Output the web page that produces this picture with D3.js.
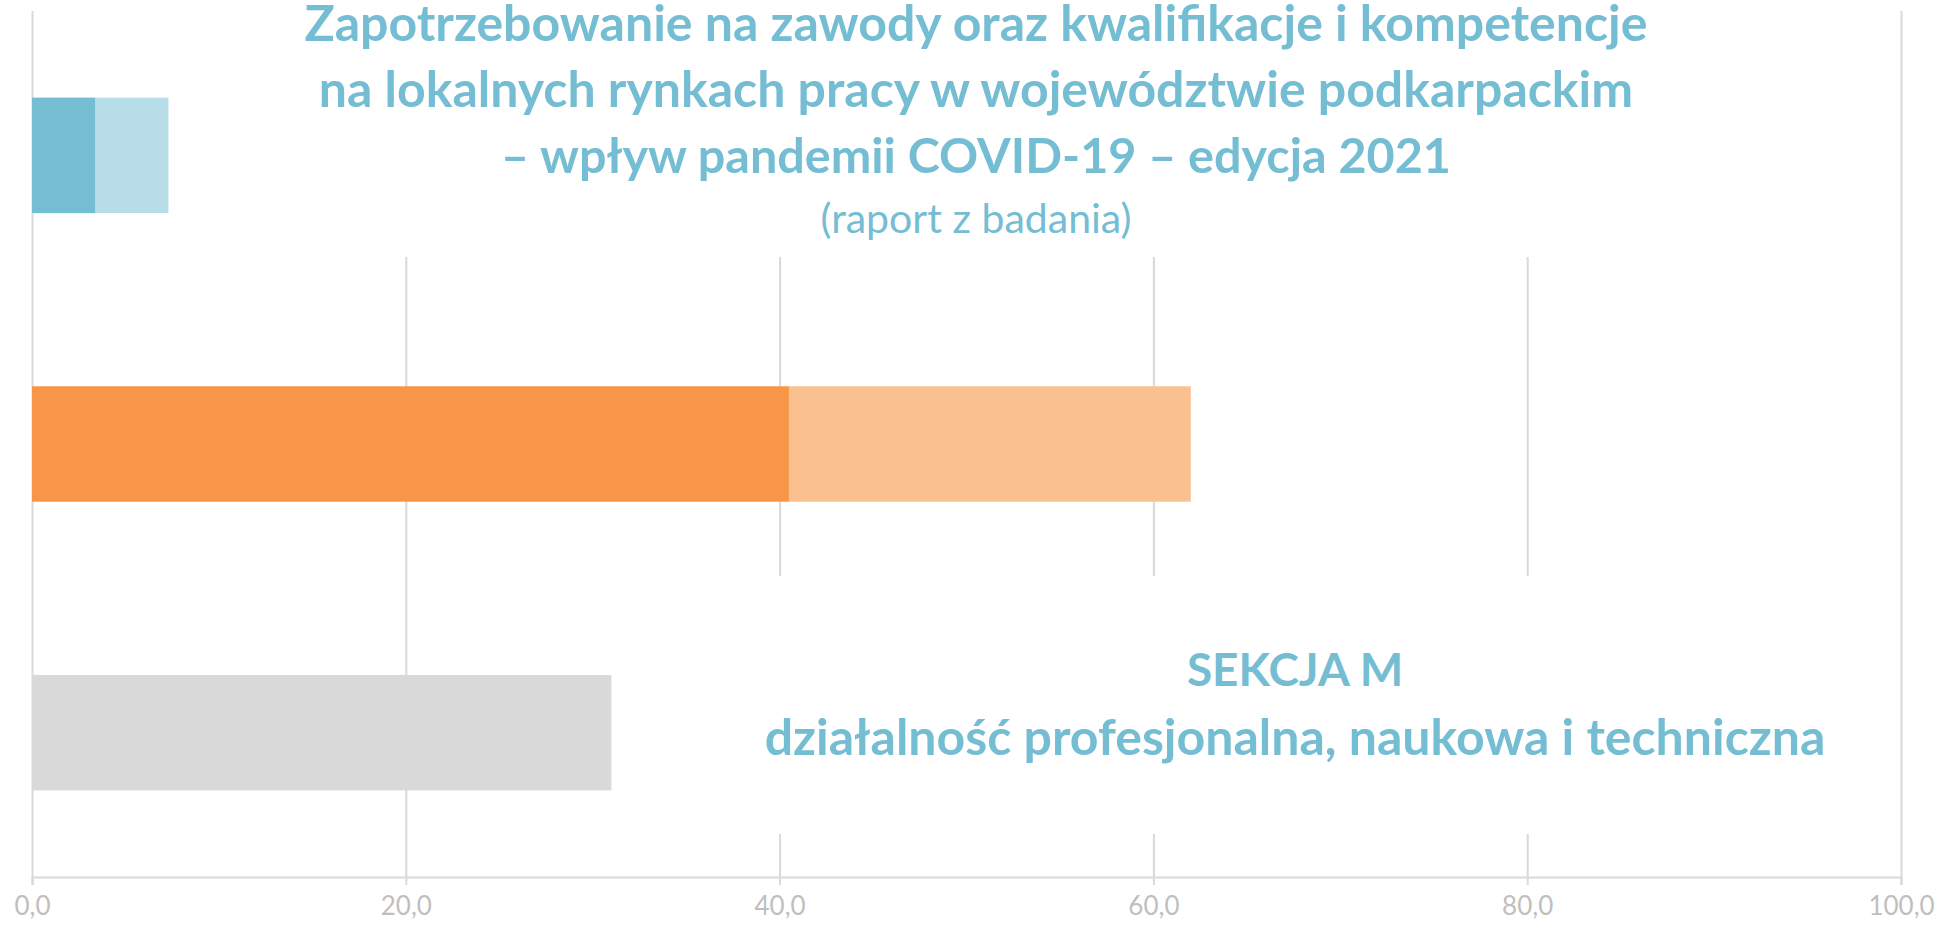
<!DOCTYPE html>
<html>
<head>
<meta charset="utf-8">
<script src="https://cdn.jsdelivr.net/npm/d3@7"></script>
<style>
  body { margin: 0; background: #fff; }
  svg { display: block; }
</style>
</head>
<body>
<script>
// dane
var categories = ["A", "B", "C"];
var seriesMain = [3.4, 40.5, 31.0];
var seriesExtra = [3.9, 21.5, 0];
var xTicks = [0, 20, 40, 60, 80, 100];
var titleLines = [
    "Zapotrzebowanie na zawody oraz kwalifikacje i kompetencje",
    "na lokalnych rynkach pracy w województwie podkarpackim",
    "– wpływ pandemii COVID-19 – edycja 2021"
];
var subtitle = "(raport z badania)";
var sectionLines = ["SEKCJA M", "działalność profesjonalna, naukowa i techniczna"];

var width = 1937;
var height = 928;
var padding = {top: 11, right: 36, bottom: 51, left: 32};
var plotW = width - padding.left - padding.right;
var plotH = height - padding.top - padding.bottom;

var colors = [
    ["#75bdd3", "#b7dee8"],
    ["#f79646", "#fac090"],
    ["#d9d9d9", "#d9d9d9"]
];
var textColor = "#75bdd3";
var gridColor = "#d9d9d9";

var rows = categories.map(function(c, i) {
    return {cat: c, main: seriesMain[i], extra: seriesExtra[i]};
});
var stacked = d3.stack().keys(["main", "extra"])(rows);

var svg = d3.select("body").append("svg")
    .attr("width", width)
    .attr("height", height);

var xScale = d3.scaleLinear()
    .domain([0, 100])
    .range([0, plotW]);
var yScale = d3.scaleBand()
    .domain(categories)
    .range([0, plotH])
    .paddingInner(0.6)
    .paddingOuter(0.3);

var g = svg.append("g")
    .attr("transform", "translate(" + padding.left + "," + padding.top + ")");

// linie siatki
var grid = d3.axisBottom(xScale)
    .tickValues(xTicks)
    .tickSize(-plotH)
    .tickFormat("");
g.append("g")
    .attr("transform", "translate(0," + plotH + ")")
    .call(grid)
    .call(function(s) {
        s.select(".domain").remove();
        s.selectAll("line").attr("stroke", gridColor).attr("stroke-width", 2);
    });

// białe pola pod tekstami (zakrywają siatkę)
svg.append("rect")
    .attr("x", 280).attr("y", 0)
    .attr("width", 1400).attr("height", 257)
    .attr("fill", "#fff");
svg.append("rect")
    .attr("x", 720).attr("y", 576)
    .attr("width", 1140).attr("height", 258)
    .attr("fill", "#fff");

// oś x
var xAxis = d3.axisBottom(xScale)
    .tickValues(xTicks)
    .tickSize(8)
    .tickPadding(12)
    .tickFormat(function(d) { return d3.format(".1f")(d).replace(".", ","); });
g.append("g")
    .attr("transform", "translate(0," + plotH + ")")
    .call(xAxis)
    .call(function(s) {
        s.select(".domain").attr("stroke", gridColor).attr("stroke-width", 2);
        s.selectAll("line").attr("stroke", gridColor).attr("stroke-width", 2);
        s.selectAll("text")
            .attr("fill", "#bfbfbf")
            .attr("font-family", "Lato, sans-serif")
            .attr("font-size", "26px");
    });

// słupki
g.selectAll(".serie")
    .data(stacked)
    .enter()
    .append("g")
    .attr("class", "serie")
    .each(function(s, si) {
        d3.select(this).selectAll("rect")
            .data(s)
            .enter()
            .append("rect")
            .attr("x", function(d) { return xScale(d[0]); })
            .attr("y", function(d) { return yScale(d.data.cat); })
            .attr("width", function(d) { return xScale(d[1]) - xScale(d[0]); })
            .attr("height", yScale.bandwidth())
            .attr("fill", function(d, i) { return colors[i][si]; });
    });

// tytuł
svg.append("g")
    .selectAll("text")
    .data(titleLines)
    .enter()
    .append("text")
    .attr("x", 976)
    .attr("y", function(d, i) { return 41 + i * 66; })
    .attr("text-anchor", "middle")
    .attr("font-family", "Lato, sans-serif")
    .attr("font-weight", "bold")
    .attr("font-size", function(d, i) { return i === 2 ? "48.5px" : "50px"; })
    .attr("fill", textColor)
    .text(function(d) { return d; });

svg.append("text")
    .attr("x", 976)
    .attr("y", 233)
    .attr("text-anchor", "middle")
    .attr("font-family", "Lato, sans-serif")
    .attr("font-size", "41px")
    .attr("fill", textColor)
    .text(subtitle);

svg.append("g")
    .selectAll("text")
    .data(sectionLines)
    .enter()
    .append("text")
    .attr("x", 1295)
    .attr("y", function(d, i) { return 686 + i * 69; })
    .attr("text-anchor", "middle")
    .attr("font-family", "Lato, sans-serif")
    .attr("font-weight", "bold")
    .attr("font-size", function(d, i) { return i === 0 ? "46px" : "50px"; })
    .attr("fill", textColor)
    .text(function(d) { return d; });
</script>
</body>
</html>
